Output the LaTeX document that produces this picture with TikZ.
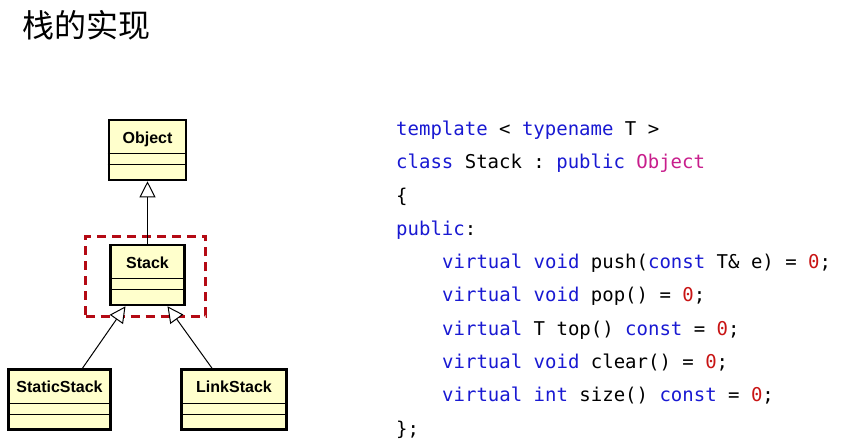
\documentclass[tikz,border=0pt]{standalone}
\usepackage{fontspec}
\setsansfont{Liberation Sans}
\setmonofont{DejaVu Sans Mono}
\newfontfamily\cjk{Noto Sans CJK SC}
\usetikzlibrary{arrows.meta,positioning}

\definecolor{umlfill}{RGB}{255,255,204}
\definecolor{kwblue}{RGB}{25,25,210}
\definecolor{typepink}{RGB}{200,30,140}
\definecolor{numred}{RGB}{200,20,20}
\definecolor{focusred}{RGB}{180,10,20}

\newcommand{\kw}[1]{\textcolor{kwblue}{#1}}
\newcommand{\num}[1]{\textcolor{numred}{#1}}

\tikzset{
  umlbox/.style={draw, fill=umlfill, line width=2.6pt, inner sep=0pt,
    minimum height=60pt},
  umlname/.style={anchor=base, font=\sffamily\bfseries\fontsize{16}{16}\selectfont},
  umlsep/.style={line width=0.8pt},
  inherit/.style={line width=1pt, -{Triangle[open, length=16pt, width=16pt, fill=white]}},
  focusbox/.style={draw=focusred, line width=2.6pt, dash pattern=on 9pt off 6pt,
    minimum width=120pt, minimum height=80pt, inner sep=0pt},
  codeline/.style={anchor=base west, inner sep=0pt,
    font=\ttfamily\fontsize{19}{19}\selectfont}
}

\begin{document}
\begin{tikzpicture}[x=1pt, y=-1pt]
  \useasboundingbox (0,0) rectangle (847,446);

  % title
  \node[anchor=base west, inner sep=0pt, font=\cjk\fontsize{32}{32}\selectfont]
    (title) at (22,38) {栈的实现};

  % class hierarchy
  \node[focusbox] (focus) at (145.5,276.5) {};

  \node[umlbox, minimum width=77pt] (object) at (147.5,150) {};
  \node[umlname] (objectname) at ([yshift=-25pt]object.north) {Object};

  \node[umlbox, minimum width=74pt] (stack) at (147.5,275) {};
  \node[umlname] (stackname) at ([yshift=-25pt]stack.north) {Stack};

  \node[umlbox, minimum width=102pt] (static) at (59.5,399.5) {};
  \node[umlname] (staticname) at ([yshift=-24pt]static.north) {StaticStack};

  \node[umlbox, minimum width=105pt] (link) at (234,399.5) {};
  \node[umlname] (linkname) at ([yshift=-24pt]link.north) {LinkStack};

  % compartments
  \foreach \cls in {object,stack,static,link}{
    \draw[umlsep] ([yshift=-35pt]\cls.north west) -- ([yshift=-35pt]\cls.north east);
    \draw[umlsep] ([yshift=-46pt]\cls.north west) -- ([yshift=-46pt]\cls.north east);
  }

  % generalisation
  \draw[inherit] (stack.north) -- (object.south);
  \draw[inherit] ([xshift=23pt]static.north) -- ([xshift=-22pt]stack.south);
  \draw[inherit] ([xshift=-22pt]link.north) -- ([xshift=20pt]stack.south);

  % interface code
  \node[codeline] (c1) at (396,135.5) {\kw{template} < \kw{typename} T >};
  \node[codeline] (c2) at (396,168.8) {\kw{class} Stack : \kw{public} \textcolor{typepink}{Object}};
  \node[codeline] (c3) at (396,202.1) {\{};
  \node[codeline] (c4) at (396,235.4) {\kw{public}:};
  \node[codeline] (c5) at (442,268.7) {\kw{virtual} \kw{void} push(\kw{const} T\& e) = \num{0};};
  \node[codeline] (c6) at (442,302.0) {\kw{virtual} \kw{void} pop() = \num{0};};
  \node[codeline] (c7) at (442,335.3) {\kw{virtual} T top() \kw{const} = \num{0};};
  \node[codeline] (c8) at (442,368.6) {\kw{virtual} \kw{void} clear() = \num{0};};
  \node[codeline] (c9) at (442,401.9) {\kw{virtual} \kw{int} size() \kw{const} = \num{0};};
  \node[codeline] (c10) at (396,435.2) {\};};
\end{tikzpicture}
\end{document}
